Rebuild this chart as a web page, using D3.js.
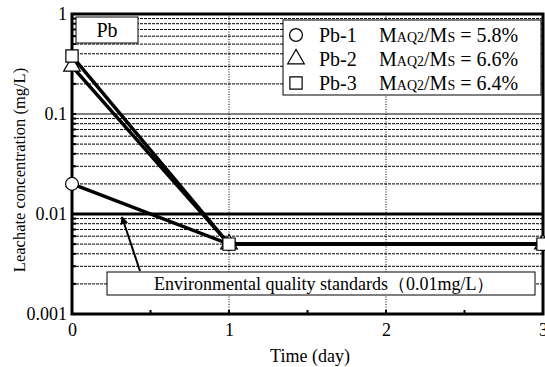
<!DOCTYPE html>
<html>
<head>
<meta charset="utf-8">
<script src="https://cdn.jsdelivr.net/npm/d3@7"></script>
<style>
  body { margin: 0; background: #fff; }
  svg text { font-family: "Liberation Serif", "Times New Roman", serif; fill: #000; }
</style>
</head>
<body>
<div id="chart"></div>
<script>
// values
var days = [0, 1, 3];
var seriesNames = ['Pb-1', 'Pb-2', 'Pb-3'];
var seriesRatios = ['5.8%', '6.6%', '6.4%'];
var seriesSymbols = ['circle', 'triangle', 'square'];
var pb1 = [0.02, 0.005, 0.005];
var pb2 = [0.3, 0.005, 0.005];
var pb3 = [0.38, 0.005, 0.005];
var standardValue = 0.01;
var xTicks = [0, 1, 2, 3];
var yTicks = [0.001, 0.01, 0.1, 1];
var yTickLabels = ['0.001', '0.01', '0.1', '1'];

var width = 545,
    height = 367,
    margin = {top: 14, right: 2, bottom: 53, left: 72};

var svg = d3.select('#chart').append('svg')
    .attr('width', width)
    .attr('height', height);

var x = d3.scaleLinear().domain([0, 3]).range([margin.left, width - margin.right]);
var y = d3.scaleLog().domain([0.001, 1]).range([height - margin.bottom, margin.top]);

// grid: dashed at minor log steps, solid at decades
var minor = [];
[0.001, 0.01, 0.1].forEach(function(dec) {
    for (var k = 2; k <= 9; k++) minor.push(dec * k);
});
svg.append('g').selectAll('line')
    .data(minor).enter().append('line')
        .attr('x1', x(0)).attr('x2', x(3))
        .attr('y1', (d) => y(d)).attr('y2', (d) => y(d))
        .attr('stroke', '#000').attr('stroke-width', 1)
        .attr('stroke-dasharray', '3,1');
svg.append('line')
    .attr('x1', x(0)).attr('x2', x(3))
    .attr('y1', y(0.1)).attr('y2', y(0.1))
    .attr('stroke', '#000').attr('stroke-width', 1.2);
svg.append('g').selectAll('line')
    .data([1, 2]).enter().append('line')
        .attr('x1', (d) => x(d)).attr('x2', (d) => x(d))
        .attr('y1', y(1)).attr('y2', y(0.001))
        .attr('stroke', '#000').attr('stroke-width', 1)
        .attr('stroke-dasharray', '1,1.5');

// environmental standard line
svg.append('line')
    .attr('x1', x(0)).attr('x2', x(3))
    .attr('y1', y(standardValue)).attr('y2', y(standardValue))
    .attr('stroke', '#000').attr('stroke-width', 3);

// frame
svg.append('rect')
    .attr('x', x(0)).attr('y', y(1))
    .attr('width', x(3) - x(0)).attr('height', y(0.001) - y(1))
    .attr('fill', 'none').attr('stroke', '#000').attr('stroke-width', 3);

// axes ticks
var yAxis = d3.axisLeft(y).tickValues(yTicks).tickSize(0).tickPadding(5)
    .tickFormat((d, i) => yTickLabels[i]);
svg.append('g').attr('transform', 'translate(' + x(0) + ',0)')
    .call(yAxis)
    .call((g) => g.select('.domain').remove())
    .selectAll('text').style('font-size', '18px');

var xAxis = d3.axisBottom(x).tickValues(xTicks).tickSize(0).tickPadding(9)
    .tickFormat(d3.format('d'));
svg.append('g').attr('transform', 'translate(0,' + y(0.001) + ')')
    .call(xAxis)
    .call((g) => g.select('.domain').remove())
    .selectAll('text').style('font-size', '18px');

// inward ticks
svg.append('g').selectAll('line')
    .data([0.5, 1, 1.5, 2, 2.5]).enter().append('line')
        .attr('x1', (d) => x(d)).attr('x2', (d) => x(d))
        .attr('y1', y(0.001)).attr('y2', y(0.001) - 4)
        .attr('stroke', '#000').attr('stroke-width', 2);
svg.append('g').selectAll('line')
    .data(minor.concat([0.01, 0.1])).enter().append('line')
        .attr('x1', x(0)).attr('x2', x(0) + 4)
        .attr('y1', (d) => y(d)).attr('y2', (d) => y(d))
        .attr('stroke', '#000').attr('stroke-width', 2);

// axis titles
svg.append('text')
    .attr('transform', 'translate(25,170) rotate(-90)')
    .attr('text-anchor', 'middle')
    .style('font-size', '16.5px')
    .text('Leachate concentration (mg/L)');
svg.append('text')
    .attr('x', 310).attr('y', 362)
    .attr('text-anchor', 'middle')
    .style('font-size', '18px')
    .text('Time (day)');

// series lines
var series = [pb1, pb2, pb3];
var line = d3.line()
    .x((d, i) => x(days[i]))
    .y((d) => y(d));
svg.append('g').selectAll('path')
    .data(series).enter().append('path')
        .attr('d', line)
        .attr('fill', 'none')
        .attr('stroke', '#000')
        .attr('stroke-width', 3.5);

// symbols
var symbolType = {circle: d3.symbolCircle, triangle: d3.symbolTriangle, square: d3.symbolSquare};
var symbolSize = {circle: 130, triangle: 120, square: 150};
function addSymbol(g, type, cx, cy) {
    g.append('path')
        .attr('d', d3.symbol().type(symbolType[type]).size(symbolSize[type])())
        .attr('transform', 'translate(' + cx + ',' + cy + ')')
        .attr('fill', '#fff')
        .attr('stroke', '#000')
        .attr('stroke-width', 1.2);
}
var marks = svg.append('g');
series.forEach(function(s, j) {
    s.forEach(function(v, i) {
        addSymbol(marks, seriesSymbols[j], x(days[i]), y(v));
    });
});

// Pb label box
svg.append('rect')
    .attr('x', 76).attr('y', 17).attr('width', 62).attr('height', 26)
    .attr('fill', '#fff').attr('stroke', '#000').attr('stroke-width', 1);
svg.append('text')
    .attr('x', 107).attr('y', 37)
    .attr('text-anchor', 'middle')
    .style('font-size', '20px')
    .text('Pb');

// legend
var legend = svg.append('g');
legend.append('rect')
    .attr('x', 283).attr('y', 20).attr('width', 258).attr('height', 75)
    .attr('fill', '#fff').attr('stroke', '#000').attr('stroke-width', 1);
seriesNames.forEach(function(name, i) {
    var ly = 35 + i * 24;
    addSymbol(legend, seriesSymbols[i], 296, ly);
    legend.append('text')
        .attr('x', 319).attr('y', ly + 7)
        .style('font-size', '20px')
        .text(name);
    var t = legend.append('text')
        .attr('x', 379).attr('y', ly + 7)
        .style('font-size', '20px');
    t.append('tspan').text('M');
    t.append('tspan').style('font-size', '14px').text('AQ2');
    t.append('tspan').text('/M');
    t.append('tspan').style('font-size', '14px').text('S');
    t.append('tspan').text(' = ' + seriesRatios[i]);
});

// environmental standard annotation
svg.append('defs').append('marker')
    .attr('id', 'arrow')
    .attr('viewBox', '0 0 10 10')
    .attr('refX', 9).attr('refY', 5)
    .attr('markerWidth', 4).attr('markerHeight', 4)
    .attr('orient', 'auto')
    .append('path').attr('d', 'M0,0L10,5L0,10z').attr('fill', '#000');
svg.append('line')
    .attr('x1', 140).attr('y1', 271)
    .attr('x2', 122).attr('y2', y(standardValue) + 3)
    .attr('stroke', '#000').attr('stroke-width', 2)
    .attr('marker-end', 'url(#arrow)');
svg.append('rect')
    .attr('x', 107).attr('y', 272).attr('width', 428).attr('height', 23)
    .attr('fill', '#fff').attr('stroke', '#000').attr('stroke-width', 1);
svg.append('text')
    .attr('x', 154).attr('y', 290)
    .style('font-size', '18px')
    .text('Environmental quality standards（0.01mg/L）');
</script>
</body>
</html>
